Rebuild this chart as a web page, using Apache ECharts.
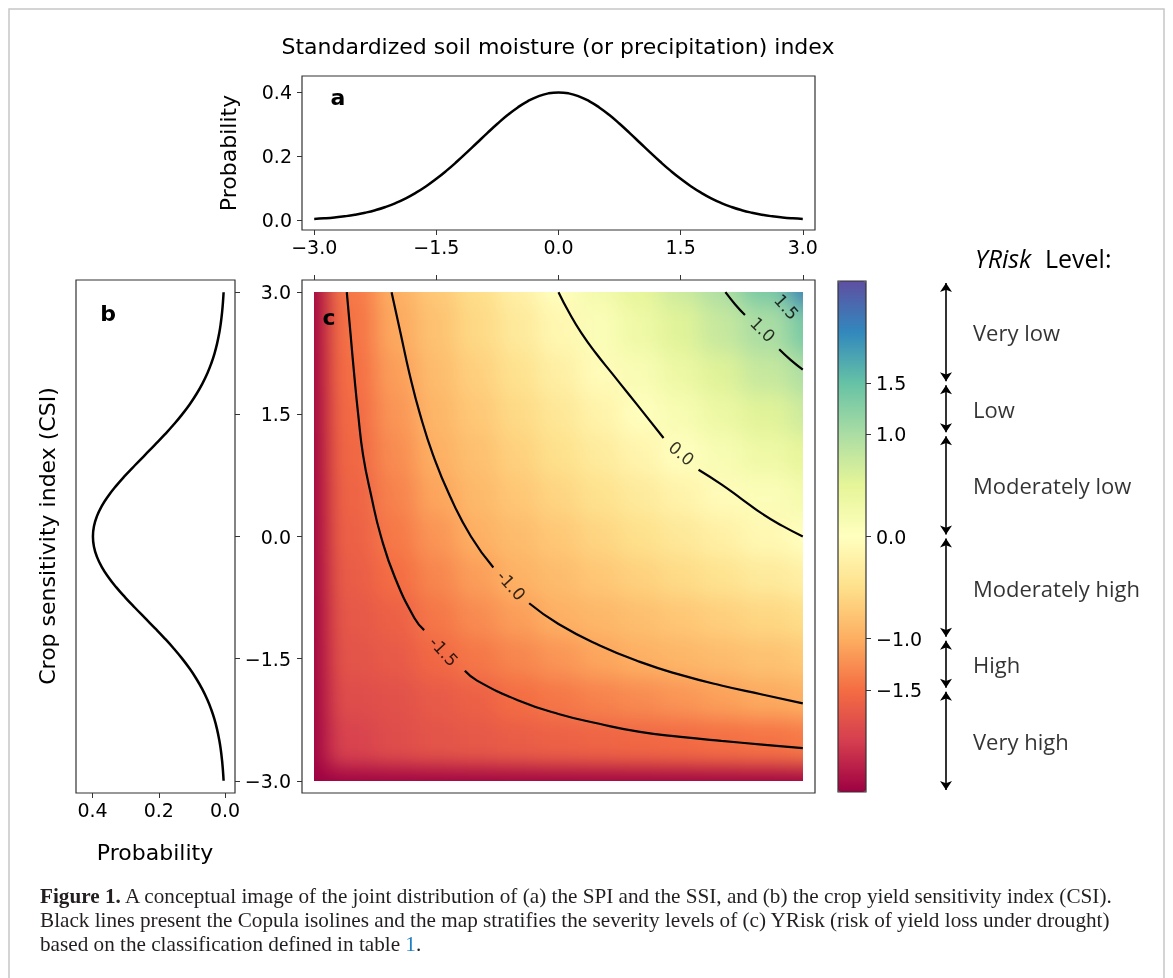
<!DOCTYPE html>
<html>
<head>
<meta charset="utf-8">
<title>YRisk conceptual figure</title>
<script src="https://cdn.jsdelivr.net/npm/echarts@6/dist/echarts.min.js"></script>
<style>
  html, body { margin: 0; padding: 0; background: #fff; }
  #heatClip { position: absolute; overflow: hidden; z-index: 1; }
  #heat { position: absolute; filter: blur(11px); }
  #fig { position: absolute; left: 0; top: 0; width: 1173px; height: 978px; z-index: 2; }
</style>
</head>
<body>
<div id="heatClip"><div id="heat"></div></div>
<div id="fig"></div>
<script>
// Joint distribution sketch: marginal pdfs (a, b) and the YRisk map with
// copula isolines (c). Everything except the caption is read off the figure.

// ---- values ----
const stdIndex = [-3, -2.875, -2.75, -2.625, -2.5, -2.375, -2.25, -2.125, -2, -1.875, -1.75, -1.625,
                  -1.5, -1.375, -1.25, -1.125, -1, -0.875, -0.75, -0.625, -0.5, -0.375, -0.25, -0.125, 0,
                  0.125, 0.25, 0.375, 0.5, 0.625, 0.75, 0.875, 1, 1.125, 1.25, 1.375, 1.5, 1.625,
                  1.75, 1.875, 2, 2.125, 2.25, 2.375, 2.5, 2.625, 2.75, 2.875, 3];
const density = [0.0044, 0.0064, 0.0091, 0.0127, 0.0175, 0.0238, 0.0317, 0.0417, 0.0540, 0.0688,
                 0.0863, 0.1065, 0.1295, 0.1550, 0.1826, 0.2119, 0.2420, 0.2720, 0.3011, 0.3282,
                 0.3521, 0.3719, 0.3867, 0.3958, 0.3989, 0.3958, 0.3867, 0.3719, 0.3521, 0.3282,
                 0.3011, 0.2720, 0.2420, 0.2119, 0.1826, 0.1550, 0.1295, 0.1065, 0.0863, 0.0688,
                 0.0540, 0.0417, 0.0317, 0.0238, 0.0175, 0.0127, 0.0091, 0.0064, 0.0044];

const indexTicks = [-3, -1.5, 0, 1.5, 3];
const probTicks = [0, 0.2, 0.4];
const cbarTicks = [1.5, 1.0, 0, -1.0, -1.5];

// YRisk sampled every 0.5 index units. Columns: SSI -3 .. 3, rows: CSI 3 .. -3.
const mapSteps = [-3, -2.5, -2, -1.5, -1, -0.5, 0, 0.5, 1, 1.5, 2, 2.5, 3];
const yriskRows = [
  [-2.60, -1.41, -0.98, -0.73, -0.51, -0.24,  0.00,  0.24,  0.49,  0.73,  0.98,  1.38,  2.10],
  [-2.60, -1.46, -1.04, -0.80, -0.57, -0.35, -0.13,  0.10,  0.32,  0.55,  0.77,  1.00,  1.38],
  [-2.65, -1.49, -1.12, -0.86, -0.66, -0.46, -0.26, -0.06,  0.14,  0.35,  0.56,  0.77,  0.98],
  [-2.70, -1.53, -1.19, -0.92, -0.74, -0.56, -0.38, -0.20, -0.02,  0.17,  0.35,  0.54,  0.73],
  [-2.70, -1.56, -1.26, -0.98, -0.82, -0.65, -0.49, -0.33, -0.17, -0.01,  0.16,  0.32,  0.49],
  [-2.75, -1.60, -1.34, -1.07, -0.89, -0.75, -0.61, -0.47, -0.34, -0.20, -0.06,  0.09,  0.24],
  [-2.80, -1.63, -1.41, -1.19, -0.98, -0.86, -0.74, -0.61, -0.49, -0.37, -0.25, -0.12,  0.00],
  [-2.85, -1.67, -1.50, -1.31, -1.12, -0.96, -0.86, -0.75, -0.65, -0.55, -0.45, -0.34, -0.24],
  [-2.90, -1.72, -1.63, -1.42, -1.27, -1.12, -0.98, -0.91, -0.83, -0.75, -0.67, -0.59, -0.51],
  [-3.00, -1.77, -1.70, -1.55, -1.42, -1.31, -1.19, -1.07, -0.98, -0.92, -0.86, -0.80, -0.73],
  [-3.10, -1.84, -1.80, -1.70, -1.63, -1.50, -1.42, -1.34, -1.27, -1.19, -1.11, -1.03, -0.98],
  [-3.20, -1.95, -1.84, -1.77, -1.72, -1.67, -1.63, -1.60, -1.56, -1.53, -1.49, -1.46, -1.41],
  [-3.50, -3.20, -3.10, -3.00, -2.90, -2.85, -2.80, -2.75, -2.70, -2.70, -2.65, -2.60, -2.60]
];

// Copula isolines as (SSI, CSI) points, each split where its inline label sits.
const isoM15a = [[-2.60, 3.0], [-2.555, 2.5], [-2.51, 2.0], [-2.46, 1.5], [-2.40, 1.0], [-2.30, 0.5],
                 [-2.18, 0.0], [-2.01, -0.5], [-1.77, -1.0], [-1.65, -1.15]];
const isoM15b = [[-1.15, -1.65], [-1.0, -1.77], [-0.5, -2.01], [0.0, -2.18], [0.5, -2.30], [1.0, -2.40],
                 [1.5, -2.46], [2.0, -2.51], [2.5, -2.555], [3.0, -2.60]];
const isoM10a = [[-2.05, 3.0], [-1.94, 2.5], [-1.83, 2.0], [-1.70, 1.5], [-1.54, 1.0], [-1.335, 0.5],
                 [-1.075, 0.0], [-0.80, -0.38]];
const isoM10b = [[-0.36, -0.82], [0.0, -1.075], [0.5, -1.335], [1.0, -1.54], [1.5, -1.70], [2.0, -1.83],
                 [2.5, -1.94], [3.0, -2.05]];
const iso00a = [[0.0, 3.0], [0.13, 2.75], [0.28, 2.5], [0.46, 2.25], [0.66, 2.0], [0.86, 1.75],
                [1.06, 1.5], [1.29, 1.21]];
const iso00b = [[1.72, 0.82], [2.0, 0.64], [2.25, 0.46], [2.5, 0.28], [2.75, 0.13], [3.0, 0.0]];
const iso10a = [[2.05, 3.0], [2.17, 2.85], [2.29, 2.72]];
const iso10b = [[2.71, 2.30], [2.85, 2.17], [3.0, 2.05]];

const isoLabels = ['1.5', '1.0', '0.0', '-1.0', '-1.5'];
const isoLabelAt = [[2.80, 2.82], [2.51, 2.54], [1.51, 1.02], [-0.58, -0.60], [-1.41, -1.41]];

const levelBounds = [2.5, 1.5, 1.0, 0, -1.0, -1.5, -2.5];
const levelNames = ['Very low', 'Low', 'Moderately low', 'Moderately high', 'High', 'Very high'];

// ---- styling ----
const SPECTRAL = ['#9e0142', '#d53e4f', '#f46d43', '#fdae61', '#fee08b', '#ffffbf',
                  '#e6f598', '#abdda4', '#66c2a5', '#3288bd', '#5e4fa2'];
const INK = '#000';
const SPINE = '#333';
const FONT = 'DejaVu Sans';
const LABEL_ROT = [-48, -45, -40, -48, -47];

const IDX_MIN = -3.15, IDX_MAX = 3.15;
const PDF_MIN = -0.03, PDF_MAX = 0.45;
const C = { left: 302, top: 280, size: 513 };

const fmt = v => v.toFixed(1).replace('-', '\u2212');

function ticks(values) {
  return { show: true, inside: false, length: 5, customValues: values,
           lineStyle: { color: SPINE, width: 1 } };
}
function labels(values, margin) {
  return { show: true, customValues: values, formatter: fmt, margin: margin,
           fontSize: 19, fontFamily: FONT, color: INK };
}
function axis(gridIndex, min, max, extra) {
  return Object.assign({
    type: 'value', gridIndex: gridIndex, min: min, max: max,
    axisLine: { show: false, onZero: false }, splitLine: { show: false },
    axisTick: { show: false }, axisLabel: { show: false }
  }, extra || {});
}
function txt(x, y, text, o) {
  o = o || {};
  return {
    type: 'text', x: x, y: y, rotation: o.rotation || 0, silent: true,
    style: {
      text: text, fill: o.fill || INK, fontSize: o.size || 22,
      fontFamily: o.family || FONT, fontWeight: o.weight || 'normal',
      fontStyle: o.style || 'normal',
      align: o.align || 'center', verticalAlign: 'middle', rich: o.rich
    }
  };
}

// ---- YRisk map layer (separate canvas, softened with a CSS blur) ----
const pxPerUnit = C.size / (IDX_MAX - IDX_MIN);
const lo = mapSteps[0], hi = mapSteps[mapSteps.length - 1];
const mapLeft = C.left + (lo - IDX_MIN) * pxPerUnit;
const mapTop = C.top + (IDX_MAX - hi) * pxPerUnit;
const mapSize = (hi - lo) * pxPerUnit;
const PAD = 70;

const clip = document.getElementById('heatClip');
clip.style.left = mapLeft + 'px';
clip.style.top = mapTop + 'px';
clip.style.width = mapSize + 'px';
clip.style.height = mapSize + 'px';
const heatDiv = document.getElementById('heat');
heatDiv.style.left = -PAD + 'px';
heatDiv.style.top = -PAD + 'px';
heatDiv.style.width = (mapSize + 2 * PAD) + 'px';
heatDiv.style.height = (mapSize + 2 * PAD) + 'px';

const cells = [];
yriskRows.forEach((row, r) => {
  const csi = mapSteps[mapSteps.length - 1 - r];
  row.forEach((v, c) => cells.push([mapSteps[c], csi, v]));
});

// Edge samples own a thinner strip inside the map: the gradient there is steep.
const HALF = 0.25, RIM = 0.15, EDGE = 0.9;
function cellSpan(v) {
  if (v === lo) return [lo - EDGE, lo + RIM];
  if (v === hi) return [hi - RIM, hi + EDGE];
  const a = v - HALF === lo + HALF ? lo + RIM : v - HALF;
  const b = v + HALF === hi - HALF ? hi - RIM : v + HALF;
  return [a, b];
}
function renderCell(params, api) {
  const sx = cellSpan(api.value(0));
  const sy = cellSpan(api.value(1));
  const a = api.coord([sx[0], sy[1]]);
  const b = api.coord([sx[1], sy[0]]);
  return {
    type: 'rect',
    shape: { x: a[0], y: a[1], width: b[0] - a[0] + 1, height: b[1] - a[1] + 1 },
    style: { fill: api.visual('color') }
  };
}

const heat = echarts.init(heatDiv, null, { renderer: 'canvas' });
heat.setOption({
  animation: false,
  grid: { left: PAD, top: PAD, width: mapSize, height: mapSize },
  xAxis: { type: 'value', min: lo, max: hi, show: false },
  yAxis: { type: 'value', min: lo, max: hi, show: false },
  visualMap: {
    show: false, type: 'continuous', min: -2.5, max: 2.5, dimension: 2, seriesIndex: 0,
    inRange: { color: SPECTRAL }, outOfRange: { color: [SPECTRAL[0]] }
  },
  series: [{
    type: 'custom', silent: true, data: cells, renderItem: renderCell,
    encode: { x: 0, y: 1 }
  }]
});

// ---- main figure ----
const series = [];
const curve = { type: 'line', smooth: true, symbol: 'none', silent: true,
                lineStyle: { color: INK, width: 2.5 } };
series.push(Object.assign({}, curve, { xAxisIndex: 0, yAxisIndex: 0,
  data: stdIndex.map((x, i) => [x, density[i]]) }));
series.push(Object.assign({}, curve, { xAxisIndex: 1, yAxisIndex: 1,
  data: stdIndex.map((y, i) => [density[i], y]) }));

[isoM15a, isoM15b, isoM10a, isoM10b, iso00a, iso00b, iso10a, iso10b].forEach(seg => {
  series.push({ type: 'line', xAxisIndex: 2, yAxisIndex: 2, data: seg, smooth: true,
                symbol: 'none', silent: true, lineStyle: { color: INK, width: 2.2 } });
});

series.push({
  type: 'scatter', xAxisIndex: 2, yAxisIndex: 2, symbolSize: 0, silent: true,
  data: isoLabels.map((t, i) => ({ name: t, value: isoLabelAt[i], label: { rotate: LABEL_ROT[i] } })),
  label: { show: true, position: 'inside', formatter: '{b}', fontSize: 17,
           fontFamily: FONT, color: INK }
});

const GAP = 0.02;
series.push({
  type: 'lines', coordinateSystem: 'cartesian2d', xAxisIndex: 4, yAxisIndex: 4, silent: true,
  symbol: ['arrow', 'arrow'], symbolSize: 9,
  lineStyle: { color: INK, width: 1.6, opacity: 1, curveness: 0 },
  data: levelNames.map((n, i) => ({
    coords: [[16, levelBounds[i] - GAP], [16, levelBounds[i + 1] + GAP]]
  }))
});
series.push({
  type: 'scatter', xAxisIndex: 4, yAxisIndex: 4, symbolSize: 0, silent: true,
  data: levelNames.map((n, i) => ({ name: n, value: [43, (levelBounds[i] + levelBounds[i + 1]) / 2] })),
  label: { show: true, position: 'inside', align: 'left', formatter: '{b}', fontSize: 22,
           fontFamily: 'Open Sans', color: INK }
});

const frame = { show: true, borderColor: SPINE, borderWidth: 1.2, backgroundColor: 'transparent' };
const capFont = 'Liberation Serif';
const CAP = 21.2;
const capRich = {
  b: { fontWeight: 'bold', fontSize: CAP, fontFamily: capFont, fill: '#231f20' },
  l: { fontSize: CAP, fontFamily: capFont, fill: '#1f7ec2' }
};

const fig = echarts.init(document.getElementById('fig'), null, { renderer: 'svg' });
fig.setOption({
  animation: false,
  grid: [
    Object.assign({ left: C.left, top: 76, width: C.size, height: 154 }, frame),
    Object.assign({ left: 76, top: C.top, width: 159, height: C.size }, frame),
    Object.assign({ left: C.left, top: C.top, width: C.size, height: C.size }, frame),
    Object.assign({ left: 838, top: 281, width: 28, height: 511, z: 10 }, frame),
    { left: 930, top: 281, width: 240, height: 511, show: false }
  ],
  xAxis: [
    axis(0, IDX_MIN, IDX_MAX, { axisTick: ticks(indexTicks), axisLabel: labels(indexTicks, 7) }),
    axis(1, PDF_MIN, PDF_MAX, { inverse: true, axisTick: ticks(probTicks), axisLabel: labels(probTicks, 7) }),
    axis(2, IDX_MIN, IDX_MAX, { position: 'top', axisTick: ticks(indexTicks) }),
    axis(3, 0, 1),
    axis(4, 0, 240)
  ],
  yAxis: [
    axis(0, PDF_MIN, PDF_MAX, { axisTick: ticks(probTicks), axisLabel: labels(probTicks, 10) }),
    axis(1, IDX_MIN, IDX_MAX, { position: 'right', axisTick: ticks(indexTicks) }),
    axis(2, IDX_MIN, IDX_MAX, { axisTick: ticks(indexTicks), axisLabel: labels(indexTicks, 11) }),
    axis(3, -2.5, 2.5, { position: 'right', axisTick: ticks(cbarTicks), axisLabel: labels(cbarTicks, 10) }),
    axis(4, -2.5, 2.5)
  ],
  visualMap: {
    type: 'continuous', seriesIndex: [], min: -2.5, max: 2.5, calculable: false, hoverLink: false,
    left: 838, top: 281, itemWidth: 28, itemHeight: 511, padding: 0,
    inRange: { color: SPECTRAL }
  },
  series: series,
  graphic: [
    { type: 'rect', silent: true, shape: { x: 9, y: 9, width: 1155, height: 1000 },
      style: { fill: 'none', stroke: '#c6c6c6', lineWidth: 1.5 } },
    txt(558, 46, 'Standardized soil moisture (or precipitation) index'),
    txt(228, 153, 'Probability', { rotation: Math.PI / 2 }),
    txt(155, 852, 'Probability'),
    txt(47, 536, 'Crop sensitivity index (CSI)', { rotation: Math.PI / 2 }),
    txt(338, 97, 'a', { weight: 'bold' }),
    txt(108, 313, 'b', { weight: 'bold' }),
    txt(329, 317, 'c', { weight: 'bold' }),
    txt(975, 258, 'YRisk', { family: 'Open Sans', style: 'italic', align: 'left', size: 25 }),
    txt(1045, 258, 'Level:', { family: 'Open Sans', align: 'left', size: 25 }),
    txt(40, 896, '{b|Figure 1.} A conceptual image of the joint distribution of (a) the SPI and the SSI, and (b) the crop yield sensitivity index (CSI).',
        { family: capFont, size: CAP, fill: '#231f20', align: 'left', rich: capRich }),
    txt(40, 920, 'Black lines present the Copula isolines and the map stratifies the severity levels of (c) YRisk (risk of yield loss under drought)',
        { family: capFont, size: CAP, fill: '#231f20', align: 'left' }),
    txt(40, 944, 'based on the classification defined in table {l|1}.',
        { family: capFont, size: CAP, fill: '#231f20', align: 'left', rich: capRich })
  ]
});
</script>
</body>
</html>
